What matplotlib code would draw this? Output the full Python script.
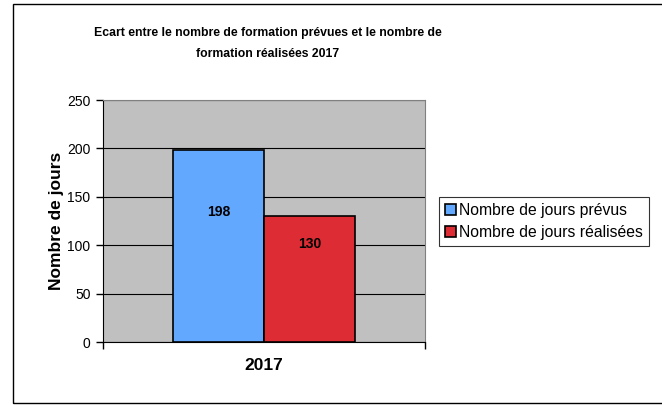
import matplotlib
matplotlib.use("Agg")
import matplotlib.pyplot as plt
from matplotlib.patches import Rectangle

categories = ["2017"]
series_names = ["Nombre de jours prévus", "Nombre de jours réalisées"]
values = [198, 130]
colors = ["#62A8FF", "#DD2C33"]
label_frac = [0.68, 0.78]
yticks = [0, 50, 100, 150, 200, 250]

plt.rcParams['font.family'] = ['Liberation Sans', 'DejaVu Sans']

W, H = 662, 405
fig = plt.figure(figsize=(W / 100, H / 100), dpi=100)

# outer chart frame
fig.patches.append(Rectangle((13 / W, 1 - 403 / H), (670 - 13) / W, (403 - 4) / H,
                             transform=fig.transFigure, fill=False,
                             edgecolor="black", linewidth=1.0))

ax_l, ax_r, ax_t, ax_b = 103, 425, 100, 342
ax = fig.add_axes([ax_l / W, 1 - ax_b / H, (ax_r - ax_l) / W, (ax_b - ax_t) / H])
ax.set_facecolor("#C0C0C0")

bw = 0.284
offsets = [-bw / 2, bw / 2]
for i, (name, v, c) in enumerate(zip(series_names, values, colors)):
    ax.bar(offsets[i], v, width=bw, color=c, edgecolor="black", linewidth=1.2,
           label=name, zorder=3)
    ax.text(offsets[i], v * label_frac[i], str(v), ha="center", va="center",
            fontsize=10, fontweight="bold", zorder=4)

ax.set_xlim(-0.5, 0.5)
ax.set_ylim(0, 250)
ax.set_yticks(yticks)
ax.set_yticklabels([str(t) for t in yticks], fontsize=10)
ax.yaxis.grid(True, color="black", linewidth=0.8, zorder=1)
ax.set_axisbelow(True)

ax.set_xticks([0])
ax.set_xticklabels([])
ax.set_xticks([-0.5, 0.5], minor=True)
ax.tick_params(axis="x", which="major", length=0)
ax.tick_params(axis="x", which="minor", length=5, width=1, direction="out", color="black")
ax.tick_params(axis="y", length=5, width=1, direction="out", pad=4)

for s in ["top", "right"]:
    ax.spines[s].set_color("#808080")
ax.spines["left"].set_color("black")
ax.spines["bottom"].set_color("black")

ax.set_xlabel(categories[0], fontsize=12.5, fontweight="bold", labelpad=3)
ax.set_ylabel("Nombre de jours", fontsize=12.5, fontweight="bold", labelpad=2)

fig.text(268 / W, 1 - 43.5 / H,
         "Ecart entre le nombre de formation prévues et le nombre de\nformation réalisées 2017",
         ha="center", va="center", fontsize=8.8, fontweight="bold", linespacing=1.95)

leg = ax.legend(loc="center left", bbox_to_anchor=(439 / W, 1 - 221.5 / H),
                bbox_transform=fig.transFigure, fontsize=11.3, frameon=True,
                fancybox=False, shadow=False, edgecolor="black",
                handlelength=0.7, handleheight=0.7, handletextpad=0.2,
                borderpad=0.38, labelspacing=0.48, borderaxespad=0)
leg.get_frame().set_linewidth(0.8)

fig.savefig("out.png", dpi=100)
